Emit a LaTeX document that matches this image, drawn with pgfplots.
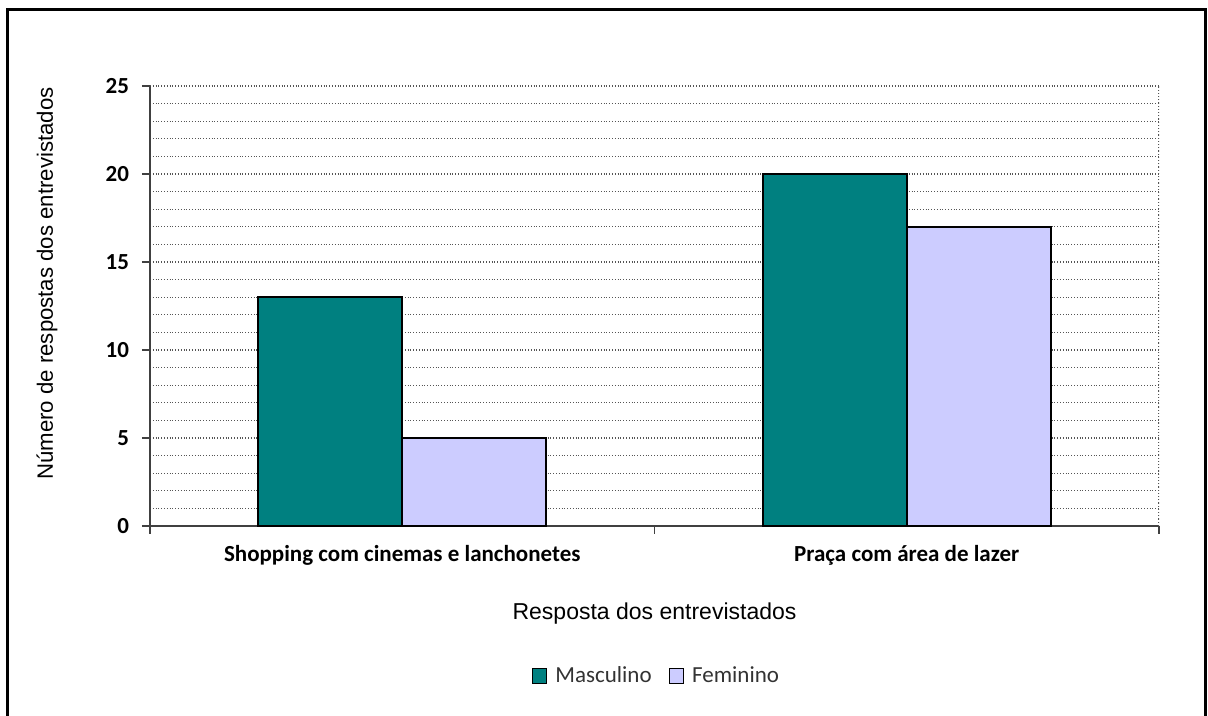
\documentclass[border=0pt]{standalone}
\usepackage{fontspec}
\setmainfont{Liberation Sans}
\newfontfamily\calibri{Carlito}
\usepackage{pgfplots}
\pgfplotsset{compat=1.18}
\definecolor{masc}{HTML}{008080}
\definecolor{fem}{HTML}{CCCCFF}
\definecolor{gridc}{HTML}{555555}

\begin{document}
\begin{tikzpicture}
\begin{axis}[
  scale only axis,
  width=504.5pt, height=220pt,
  xmin=-0.5, xmax=1.5, ymin=0, ymax=25,
  ybar=0pt, bar width=0.285,
  axis x line*=bottom, axis y line*=left,
  axis line style={-, black!75, line width=0.6pt},
  tick align=outside,
  xtick={0,1},
  xticklabels={Shopping com cinemas e lanchonetes, Praça com área de lazer},
  minor xtick={-0.5,0.5,1.5},
  major x tick style={draw=none},
  minor x tick style={black!75, line width=0.6pt},
  ytick={0,5,...,25},
  minor y tick num=4,
  major y tick style={black!75, line width=0.6pt},
  minor y tick style={draw=none},
  major tick length=4pt, minor tick length=4pt,
  ymajorgrids, yminorgrids,
  major grid style={gridc, densely dotted, line width=0.6pt},
  minor grid style={gridc, densely dotted, line width=0.6pt},
  ticklabel style={font=\calibri\bfseries\fontsize{11.5}{13}\selectfont, black},
  /pgf/number format/assume math mode=true,
  xticklabel style={yshift=-2pt},
  yticklabel style={xshift=-3pt},
  xlabel={Resposta dos entrevistados},
  ylabel={Número de respostas dos entrevistados},
  xlabel style={font=\fontsize{11.5}{13}\selectfont, at={(axis description cs:0.5,-0.2)}, anchor=center},
  ylabel style={font=\fontsize{11.1}{13}\selectfont, at={(axis description cs:-0.102,0.551)}, anchor=center},
  legend columns=2,
  legend style={at={(axis description cs:0.5025,-0.341)}, anchor=center,
    draw=none, fill=none, inner sep=0pt,
    font=\calibri\fontsize{11.5}{13}\selectfont, text=black!80,
    nodes={inner sep=1.5pt},
    /tikz/every odd column/.append style={column sep=2.5pt},
    /tikz/every even column/.append style={column sep=7pt}},
  legend image code/.code={\draw[#1, draw=black, line width=0.5pt] (0pt,-3.6pt) rectangle (7.2pt,3.6pt);},
]
\addplot[fill=masc, draw=black, line width=1pt, bar shift=-0.1425] coordinates {(0,13) (1,20)};
\addplot[fill=fem, draw=black, line width=1pt, bar shift=0.1425] coordinates {(0,5) (1,17)};
\legend{Masculino, Feminino}
\draw[gridc, densely dotted, line width=0.6pt] (rel axis cs:1,0) -- (rel axis cs:1,1);
\end{axis}
\begin{scope}[x=0.5pt, y=-0.5pt, shift={(-150,-526)}]
  \useasboundingbox (0,0) rectangle (1208,716);
  \draw[line width=1.2pt] (7.5,716) -- (7.5,9.5) -- (1205.5,9.5) -- (1205.5,716);
\end{scope}
\end{tikzpicture}
\end{document}
